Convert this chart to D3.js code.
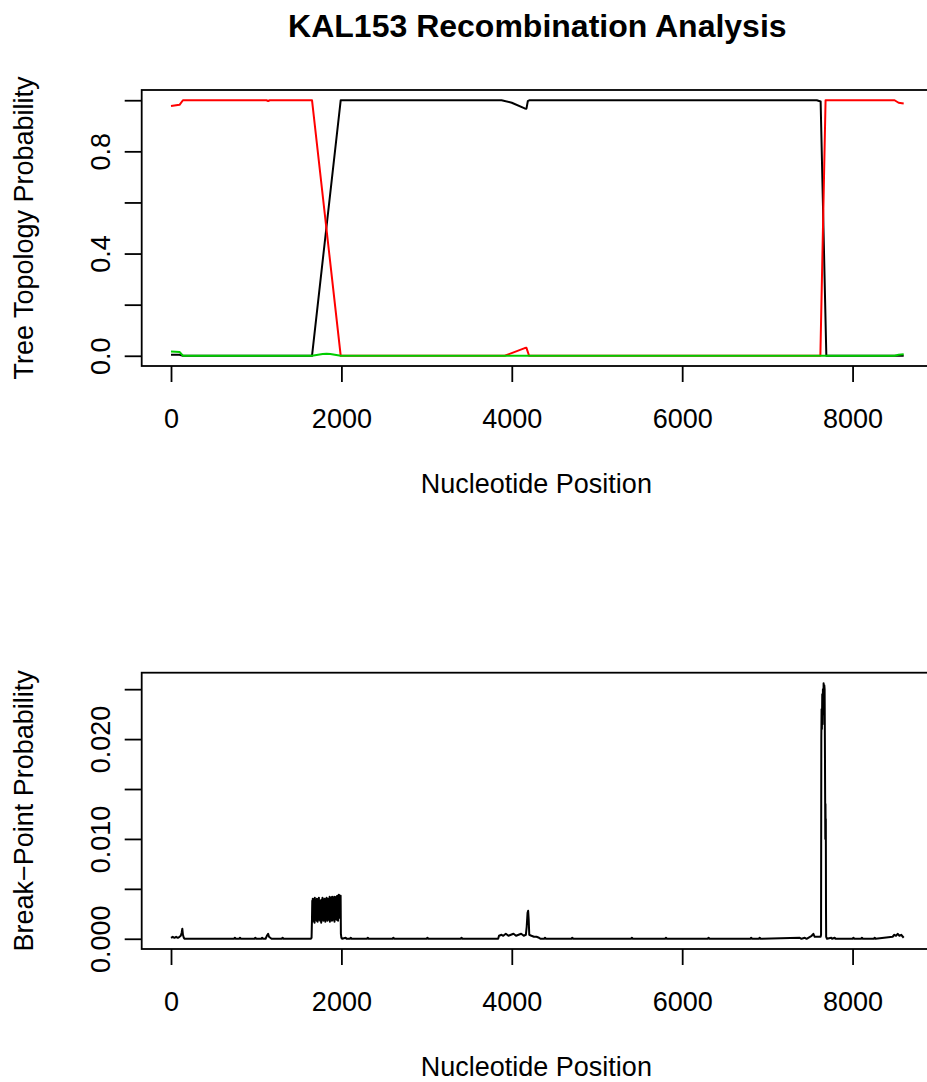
<!DOCTYPE html>
<html>
<head>
<meta charset="utf-8">
<script src="https://cdn.jsdelivr.net/npm/d3@7/dist/d3.min.js"></script>
<style>
  html, body { margin: 0; padding: 0; background: #ffffff; }
  svg { display: block; }
  text { font-family: "Liberation Sans", Arial, Helvetica, sans-serif; fill: #000; }
</style>
</head>
<body>
<svg id="chart" width="927" height="1082"></svg>
<script>
// ---------------- DATA ----------------
const titleText = "KAL153 Recombination Analysis";
const xLabel = "Nucleotide Position";
const topYLabel = "Tree Topology Probability";
const botYLabel = "Break\u2212Point Probability";

const xTicks = [0, 2000, 4000, 6000, 8000];
const topYTicks = [0, 0.2, 0.4, 0.6, 0.8, 1.0];
const topYTickLabels = ["0.0", "", "0.4", "", "0.8", ""];
const botYTicks = [0, 0.005, 0.010, 0.015, 0.020, 0.025];
const botYTickLabels = ["0.000", "", "0.010", "", "0.020", ""];

// Topology probabilities (black, red, green)
const blackPos = [0, 100, 140, 1655, 1992, 3880, 4000, 4152, 4172, 4188, 4210, 7580, 7625, 7692, 8600];
const blackVal = [0.004, 0.004, 0, 0, 1.0, 1.0, 0.99, 0.968, 0.967, 0.996, 1.0, 1.0, 0.995, 0, 0];

const redPos = [0, 100, 140, 1120, 1140, 1160, 1655, 1992, 3918, 4152, 4172, 4203, 7622, 7683, 8493, 8540, 8600];
const redVal = [0.977, 0.982, 1.0, 1.0, 0.997, 1.0, 1.0, 0, 0, 0.030, 0.031, 0, 0, 1.0, 1.0, 0.99, 0.987];

const greenPos = [0, 100, 140, 1655, 1780, 1826, 1870, 1992, 8493, 8540, 8600];
const greenVal = [0.017, 0.015, 0, 0, 0.007, 0.008, 0.007, 0, 0, 0.004, 0.006];

// Break-point probability
const bpPos = [
  0, 20, 40, 60, 80, 100, 115, 125, 133, 140, 150, 160,
  300, 740, 750, 760, 800, 810, 820, 980, 990, 1000, 1060, 1070, 1080,
  1110, 1125, 1140, 1150, 1165, 1180, 1300, 1310, 1320, 1640, 1650,
  1655, 1658, 1661, 1664, 1667, 1670, 1673, 1676, 1679, 1682,
  1685, 1688, 1691, 1694, 1697, 1700, 1703, 1706, 1709, 1712,
  1715, 1718, 1721, 1724, 1727, 1730, 1733, 1736, 1739, 1742,
  1745, 1748, 1751, 1754, 1757, 1760, 1763, 1766, 1769, 1772,
  1775, 1778, 1781, 1784, 1787, 1790, 1793, 1796, 1799, 1802,
  1805, 1808, 1811, 1814, 1817, 1820, 1823, 1826, 1829, 1832,
  1835, 1838, 1841, 1844, 1847, 1850, 1853, 1856, 1859, 1862,
  1865, 1868, 1871, 1874, 1877, 1880, 1883, 1886, 1889, 1892,
  1895, 1898, 1901, 1904, 1907, 1910, 1913, 1916, 1919, 1922,
  1925, 1928, 1931, 1934, 1937, 1940, 1943, 1946, 1949, 1952,
  1955, 1958, 1961, 1964, 1967, 1970, 1973, 1976, 1979, 1982,
  1985, 1988, 1991, 1994, 2000, 2010,
  2050, 2060, 2100, 2110, 2120, 2300, 2310, 2320, 2600, 2610, 2620,
  3000, 3010, 3020, 3400, 3410, 3420,
  3840, 3850, 3880, 3900, 3930, 3960, 3990, 4020, 4050, 4080, 4110, 4140, 4165,
  4175, 4185, 4192, 4198, 4205, 4230, 4260, 4290, 4320, 4340,
  4380, 4390, 4400, 4700, 4710, 4720, 5400, 5410, 5420, 5800, 5810, 5820,
  6300, 6310, 6320, 6800, 6810, 6820, 6900, 6910, 6920,
  7380, 7400, 7440, 7460, 7520, 7540, 7555, 7570, 7600, 7625, 7630,
  7633, 7636, 7640, 7644, 7648, 7652, 7656, 7660, 7664, 7668, 7672,
  7675, 7678, 7680, 7682, 7684, 7686, 7688, 7690, 7700,
  7750, 7760, 7790, 7800, 8000, 8010, 8020, 8100, 8110, 8120, 8250, 8260, 8270,
  8470, 8490, 8510, 8530, 8550, 8570, 8590, 8600
];
const bpVal = [
  0.0001, 0.0002, 0.0001, 0.0002, 0.0001, 0.0002, 0.0003, 0.0006, 0.0010, 0.0004, 0.0001, 0,
  0, 0, 0.0001, 0, 0, 0.0001, 0, 0, 0.0001, 0, 0, 0.0001, 0,
  0, 0.0003, 0.0005, 0.0002, 0.0001, 0, 0, 0.0001, 0, 0, 0.0001,
  0.0021, 0.0038, 0.0017, 0.0040, 0.0024, 0.0035, 0.0019, 0.0039, 0.0028, 0.0036,
  0.0016, 0.0041, 0.0022, 0.0034, 0.0020, 0.0038, 0.0026, 0.0037, 0.0018, 0.0040,
  0.0023, 0.0036, 0.0017, 0.0039, 0.0027, 0.0035, 0.0021, 0.0041, 0.0019, 0.0037,
  0.0025, 0.0034, 0.0018, 0.0038, 0.0022, 0.0036, 0.0016, 0.0039, 0.0024, 0.0037,
  0.0020, 0.0041, 0.0027, 0.0035, 0.0018, 0.0038, 0.0023, 0.0036, 0.0019, 0.0040,
  0.0026, 0.0037, 0.0017, 0.0039, 0.0022, 0.0035, 0.0020, 0.0041, 0.0025, 0.0038,
  0.0018, 0.0036, 0.0023, 0.0040, 0.0019, 0.0037, 0.0027, 0.0039, 0.0021, 0.0042,
  0.0017, 0.0038, 0.0024, 0.0036, 0.0020, 0.0041, 0.0026, 0.0039, 0.0018, 0.0042,
  0.0023, 0.0037, 0.0019, 0.0040, 0.0028, 0.0038, 0.0021, 0.0042, 0.0017, 0.0039,
  0.0025, 0.0041, 0.0020, 0.0038, 0.0023, 0.0042, 0.0019, 0.0040, 0.0027, 0.0043,
  0.0022, 0.0039, 0.0018, 0.0042, 0.0026, 0.0044, 0.0021, 0.0041, 0.0024, 0.0043,
  0.0029, 0.0042, 0.0043, 0.0005, 0.0001, 0,
  0.0001, 0, 0, 0.0001, 0, 0, 0.0001, 0, 0, 0.0001, 0,
  0, 0.0001, 0, 0, 0.0001, 0,
  0, 0.0003, 0.0004, 0.0003, 0.0005, 0.0003, 0.0004, 0.0005, 0.0003, 0.0004, 0.0005, 0.0003, 0.0004,
  0.0012, 0.0026, 0.0028, 0.0020, 0.0004, 0.0003, 0.0002, 0.0002, 0.0001, 0,
  0, 0.0001, 0, 0, 0.0001, 0, 0, 0.0001, 0, 0, 0.0001, 0,
  0, 0.0001, 0, 0, 0.0001, 0, 0, 0.0001, 0,
  0.0001, 0, 0.0001, 0, 0.0003, 0.0005, 0.0002, 0.0002, 0.0002, 0.0002, 0.0004,
  0.0200, 0.0230, 0.0210, 0.0245, 0.0215, 0.0250, 0.0225, 0.0256, 0.0235, 0.0254, 0.0250,
  0.0200, 0.0140, 0.0100, 0.0135, 0.0105, 0.0120, 0.0030, 0.0002, 0,
  0.0001, 0, 0.0001, 0, 0, 0.0001, 0, 0, 0.0001, 0, 0, 0.0001, 0,
  0.0002, 0.0004, 0.0003, 0.0005, 0.0003, 0.0004, 0.0002, 0.0001
];

// ---------------- LAYOUT ----------------
const svg = d3.select("#chart");
const FS = 27;

const panelLeft = 141.7, panelRight = 933;
const topPanel = { top: 90, bottom: 366 };
const botPanel = { top: 672.7, bottom: 949 };

const xDomain = [-344, 8944];
const x = d3.scaleLinear().domain(xDomain).range([panelLeft, panelRight]);

const yTop = d3.scaleLinear().domain([-0.04, 1.04]).range([topPanel.bottom, topPanel.top]);
const botMax = 0.025625;
const yBot = d3.scaleLinear().domain([-0.04 * botMax, 1.04 * botMax]).range([botPanel.bottom, botPanel.top]);

// Title
svg.append("text")
  .attr("x", (panelLeft + panelRight) / 2)
  .attr("y", 37)
  .attr("text-anchor", "middle")
  .style("font-size", "32px")
  .style("font-weight", "bold")
  .text(titleText);

function drawPanel(panel, yScale, yTicks, yTickLabels, yLabel, series) {
  const g = svg.append("g");
  const cid = "clip" + Math.round(panel.top);
  svg.append("clipPath").attr("id", cid)
    .append("rect")
    .attr("x", panelLeft).attr("y", panel.top)
    .attr("width", panelRight - panelLeft).attr("height", panel.bottom - panel.top);

  const dataG = g.append("g").attr("clip-path", `url(#${cid})`);
  series.forEach(s => {
    const pts = s.pos.map((p, i) => [p, s.val[i]]);
    const line = d3.line().x(d => x(d[0])).y(d => yScale(d[1]));
    dataG.append("path")
      .attr("d", line(pts))
      .attr("fill", "none")
      .attr("stroke", s.color)
      .attr("stroke-width", 2)
      .attr("stroke-linejoin", "round");
  });

  // box
  g.append("rect")
    .attr("x", panelLeft).attr("y", panel.top)
    .attr("width", panelRight - panelLeft).attr("height", panel.bottom - panel.top)
    .attr("fill", "none").attr("stroke", "#000").attr("stroke-width", 1.8);

  // x axis
  const xAxis = d3.axisBottom(x).tickValues(xTicks).tickSize(16).tickFormat(d3.format("d"));
  const xg = g.append("g").attr("transform", `translate(0,${panel.bottom})`).call(xAxis);
  xg.select(".domain").remove();
  xg.selectAll(".tick line").attr("stroke", "#000").attr("stroke-width", 1.8);
  xg.selectAll(".tick text")
    .attr("y", 62).attr("dy", null)
    .style("font-size", FS + "px").style("font-family", "Liberation Sans, Arial, sans-serif")
    .attr("fill", "#000");

  // x label
  g.append("text")
    .attr("x", (panelLeft + panelRight) / 2 - 1)
    .attr("y", panel.bottom + 127)
    .attr("text-anchor", "middle")
    .style("font-size", FS + "px")
    .text(xLabel);

  // y axis
  const yAxis = d3.axisLeft(yScale).tickValues(yTicks).tickSize(17)
    .tickFormat((d, i) => yTickLabels[i]);
  const yg = g.append("g").attr("transform", `translate(${panelLeft},0)`).call(yAxis);
  yg.select(".domain").remove();
  yg.selectAll(".tick line").attr("stroke", "#000").attr("stroke-width", 1.8);
  yg.selectAll(".tick text")
    .attr("x", null).attr("dy", null)
    .attr("transform", `translate(${110 - panelLeft},0) rotate(-90)`)
    .attr("text-anchor", "middle")
    .style("font-size", FS + "px").style("font-family", "Liberation Sans, Arial, sans-serif")
    .attr("fill", "#000");

  // y label
  const cy = (panel.top + panel.bottom) / 2;
  g.append("text")
    .attr("transform", `translate(33,${cy}) rotate(-90)`)
    .attr("text-anchor", "middle")
    .style("font-size", FS + "px")
    .text(yLabel);
}

drawPanel(topPanel, yTop, topYTicks, topYTickLabels, topYLabel, [
  { pos: blackPos, val: blackVal, color: "#000000" },
  { pos: redPos, val: redVal, color: "#FF0000" },
  { pos: greenPos, val: greenVal, color: "#00CD00" }
]);

drawPanel(botPanel, yBot, botYTicks, botYTickLabels, botYLabel, [
  { pos: bpPos, val: bpVal, color: "#000000" }
]);
</script>
</body>
</html>
